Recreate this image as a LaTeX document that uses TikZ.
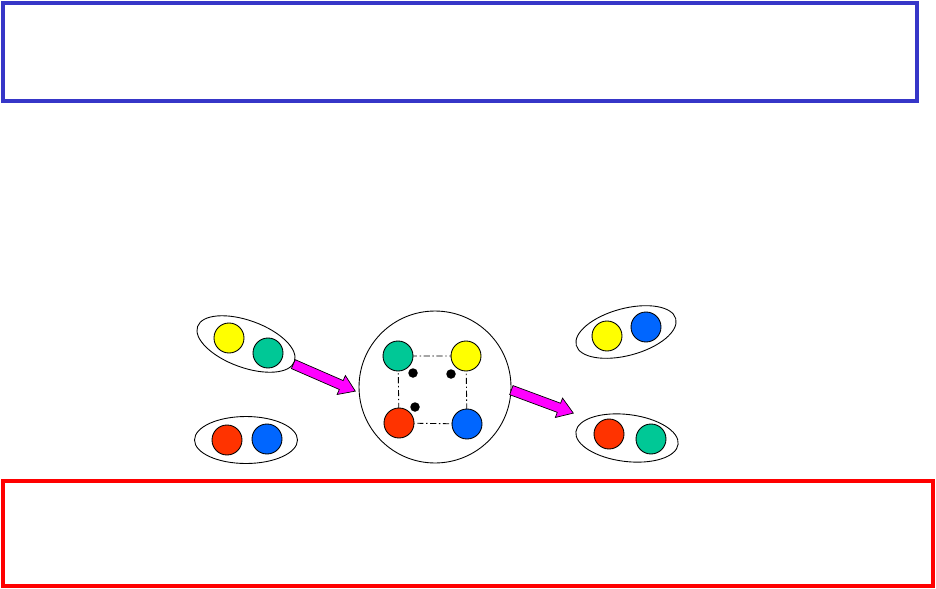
\documentclass[tikz,border=0pt]{standalone}
\usepackage{xcolor}
\definecolor{frameBlue}{HTML}{3636C8}
\definecolor{frameRed}{HTML}{FF0000}
\definecolor{ballYellow}{HTML}{FFFF00}
\definecolor{ballGreen}{HTML}{00C896}
\definecolor{ballRed}{HTML}{FF3300}
\definecolor{ballBlue}{HTML}{0066FF}
\definecolor{arrowPink}{HTML}{FF00FF}
\usepackage{tikz}
\usetikzlibrary{shapes.geometric,shapes.arrows,calc,backgrounds}
\tikzset{
    pair/.style={
        draw=black,
        ellipse,
        minimum width=2.06cm,
        minimum height=0.94cm,
        inner sep=0pt,
        line width=0.5pt
    },
    ball/.style={
        draw=black,
        circle,
        minimum size=0.6cm,
        inner sep=0pt,
        line width=0.5pt
    },
    hub/.style={
        draw=black,
        circle,
        minimum size=3.04cm,
        inner sep=0pt,
        line width=0.5pt
    },
    dot/.style={
        fill=black,
        circle,
        minimum size=0.19cm,
        inner sep=0pt
    },
    link/.style={
        line width=0.5pt,
        dash pattern=on 3.5pt off 1.5pt on 0.8pt off 1.5pt
    },
    blockarrow/.style={
        single arrow,
        draw=black,
        fill=arrowPink,
        line width=0.4pt,
        inner sep=0.09cm,
        single arrow head extend=0.11cm,
        single arrow tip angle=68,
        anchor=tail
    },
    framebox/.style={
        line width=1.8pt
    }
}

\begin{document}
\begin{tikzpicture}[x=0.02cm, y=-0.02cm]
    \useasboundingbox (0,0) rectangle (936,588);

    % Frames
    \draw[framebox, draw=frameBlue] (3,3) rectangle (917,101);
    \draw[framebox, draw=frameRed] (3,481) rectangle (933,586);

    % Incoming pairs
    \node[pair, rotate=-20] (inTop) at (246,344) {};
    \node[ball, fill=ballYellow] (inTopY) at (229,338) {};
    \node[ball, fill=ballGreen] (inTopG) at (268,353) {};
    \node[pair] (inBot) at (246,440) {};
    \node[ball, fill=ballRed] (inBotR) at (227,440) {};
    \node[ball, fill=ballBlue] (inBotB) at (267,439) {};

    % Central hub
    \node[hub] (hub) at (435,387) {};
    \node[ball, fill=ballGreen] (hubG) at (398,356) {};
    \node[ball, fill=ballYellow] (hubY) at (466,356) {};
    \node[ball, fill=ballRed] (hubR) at (399,423) {};
    \node[ball, fill=ballBlue] (hubB) at (467,424) {};
    \node[dot] (dotA) at (413,373) {};
    \node[dot] (dotB) at (451,374) {};
    \node[dot] (dotC) at (415,407) {};
    \begin{scope}[on background layer]
        \draw[link] (hubG.center) -- (hubY.center) -- (hubB.center) -- (hubR.center) -- cycle;
    \end{scope}

    % Outgoing pairs
    \node[pair, rotate=15] (outTop) at (626,332) {};
    \node[ball, fill=ballYellow] (outTopY) at (607,336) {};
    \node[ball, fill=ballBlue] (outTopB) at (646,327) {};
    \node[pair, rotate=-7] (outBot) at (627,438) {};
    \node[ball, fill=ballRed] (outBotR) at (609,434) {};
    \node[ball, fill=ballGreen] (outBotG) at (651,439) {};

    % Arrows
    \coordinate (inTail) at (293,364);
    \coordinate (inTip) at (355,391);
    \coordinate (outTail) at (511,390);
    \coordinate (outTip) at (573,413);
    \path let \p1=($(inTip)-(inTail)$), \n1={atan2(\y1,\x1)}, \n2={veclen(\x1,\y1)} in
        node[blockarrow, rotate=\n1, minimum height=\n2] (toHub) at (inTail) {};
    \path let \p1=($(outTip)-(outTail)$), \n1={atan2(\y1,\x1)}, \n2={veclen(\x1,\y1)} in
        node[blockarrow, rotate=\n1, minimum height=\n2] (fromHub) at (outTail) {};
\end{tikzpicture}
\end{document}
